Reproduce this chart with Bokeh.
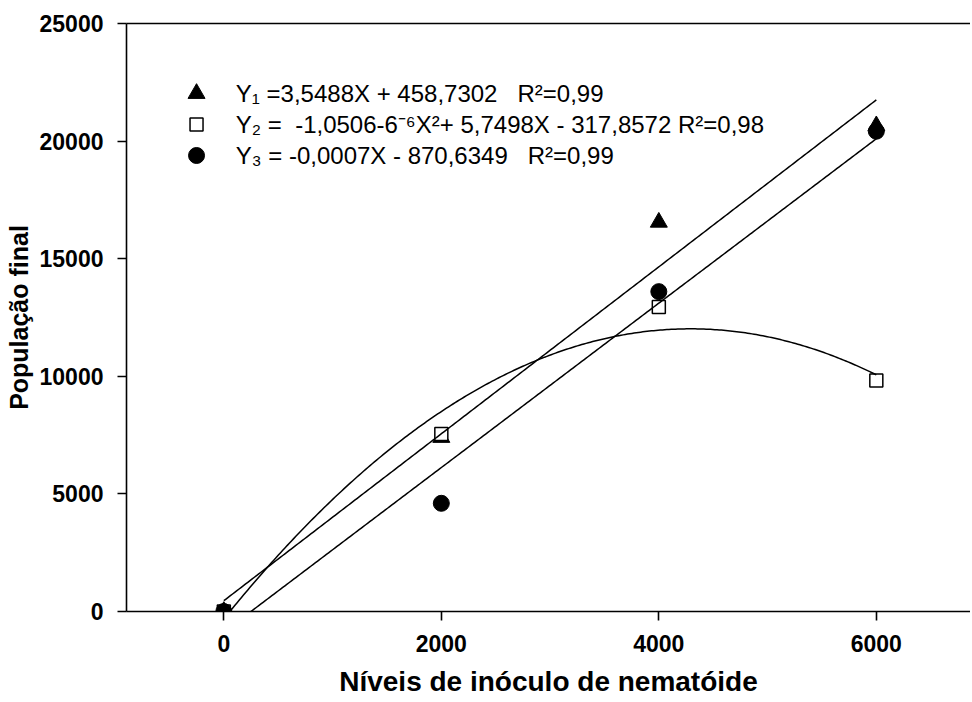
import numpy as np
from bokeh.plotting import figure
from bokeh.models import Range1d, FixedTicker, LinearAxis
from bokeh.core.properties import value
from bokeh.embed import file_html
from bokeh.resources import INLINE

# ---- data ----
x_levels = [0, 2000, 4000, 6000]
pop_y1 = [0, 7400, 16550, 20650]     # triangles
pop_y2 = [0, 7550, 12950, 9820]      # open squares
pop_y3 = [0, 4600, 13600, 20420]     # circles

fit_y1 = [3.5488, 458.7302]                 # slope, intercept
fit_y2 = [-0.00067, 5.7498, -317.8572]      # quadratic
fit_y3 = [3.495, -870.6349]                 # slope, intercept

x_ticks = [0, 2000, 4000, 6000]
y_ticks = [0, 5000, 10000, 15000, 20000, 25000]

NB = "\u00a0"
legend_labels = [
    "Y\u2081" + NB + "=3,5488X + 458,7302" + NB * 3 + "R\u00b2=0,99",
    "Y\u2082" + NB + "=" + NB * 2 + "-1,0506-6\u207b\u2076X\u00b2+ 5,7498X - 317,8572 R\u00b2=0,98",
    "Y\u2083" + NB + "= -0,0007X - 870,6349" + NB * 3 + "R\u00b2=0,99",
]

FONT = "Liberation Sans"

p = figure(width=970, height=700,
           x_range=Range1d(-895, 6866), y_range=Range1d(0, 25000),
           output_backend="svg", toolbar_location=None,
           min_border_left=126, min_border_right=0,
           min_border_top=23, min_border_bottom=89)
p.xgrid.visible = False
p.ygrid.visible = False
p.outline_line_color = None
p.background_fill_color = "white"
p.border_fill_color = "white"

for ax, ticks in ((p.xaxis, x_ticks), (p.yaxis, y_ticks)):
    ax.ticker = FixedTicker(ticks=ticks, minor_ticks=[])
    ax.major_tick_out = 9
    ax.major_tick_in = 0
    ax.minor_tick_out = 0
    ax.minor_tick_in = 0
    ax.axis_line_width = 1.6
    ax.axis_line_color = "black"
    ax.major_tick_line_width = 1.6
    ax.major_tick_line_color = "black"
    ax.major_label_text_font = FONT
    ax.major_label_text_font_style = "bold"
    ax.major_label_text_font_size = "23px"
    ax.major_label_text_color = "black"
    ax.axis_label_text_font = FONT
    ax.axis_label_text_font_style = "bold"
    ax.axis_label_text_color = "black"

p.xaxis.major_label_standoff = 14
p.yaxis.major_label_standoff = 14
p.xaxis.axis_label = "Níveis de inóculo de nematóide"
p.xaxis.axis_label_text_font_size = "28px"
p.xaxis.axis_label_standoff = 11
p.yaxis.axis_label = "População final"
p.yaxis.axis_label_text_font_size = "25px"
p.yaxis.axis_label_standoff = 4

top = LinearAxis(ticker=FixedTicker(ticks=[], minor_ticks=[]),
                 major_label_text_font_size="0px",
                 axis_line_width=1.6, axis_line_color="black",
                 major_tick_out=0, major_tick_in=0,
                 minor_tick_out=0, minor_tick_in=0)
p.add_layout(top, "above")

# markers
p.scatter(x_levels, pop_y1, marker="triangle", size=17,
          fill_color="black", line_color="black")
p.scatter(x_levels, pop_y2, marker="square", size=13,
          fill_color="white", line_color="black", line_width=1.5)
p.scatter(x_levels, pop_y3, marker="circle", size=16,
          fill_color="black", line_color="black")

# fitted curves
xs = np.linspace(x_levels[0], x_levels[-1], 300)
p.line(xs, np.polyval(fit_y1, xs), line_color="black", line_width=1.5)
p.line(xs, np.polyval(fit_y2, xs), line_color="black", line_width=1.5)
p.line(xs, np.polyval(fit_y3, xs), line_color="black", line_width=1.5)

# legend (keys and texts placed in the upper-left area of the frame)
key_x = -251
text_x = 110
row_y = [22024, 20706, 19388]
p.scatter([key_x], [row_y[0]], marker="triangle", size=17,
          fill_color="black", line_color="black")
p.scatter([key_x], [row_y[1]], marker="square", size=13,
          fill_color="white", line_color="black", line_width=1.5)
p.scatter([key_x], [row_y[2]], marker="circle", size=16,
          fill_color="black", line_color="black")
p.text(x=[text_x] * 3, y=row_y, text=legend_labels,
       text_font=value(FONT), text_font_size="24px", text_color="black",
       text_baseline="middle", text_align="left")

open("out.html", "w").write(file_html(p, INLINE))
